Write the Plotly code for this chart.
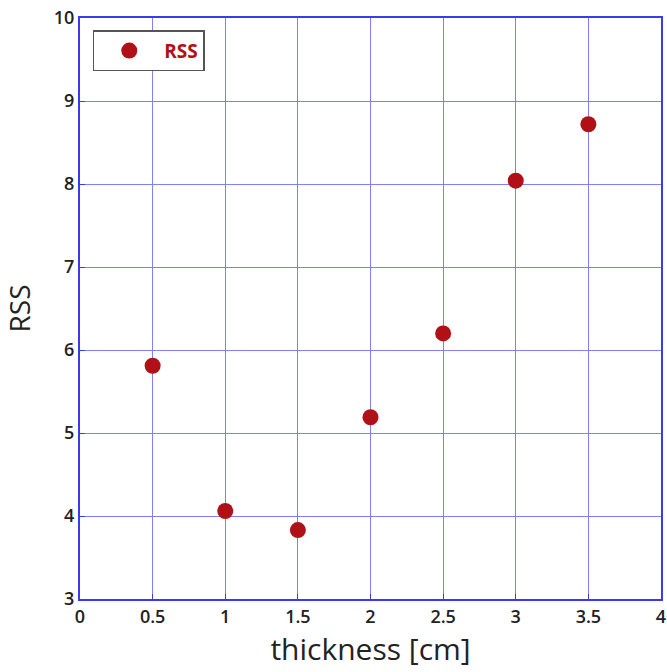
import plotly.graph_objects as go

thickness = [0.5, 1.0, 1.5, 2.0, 2.5, 3.0, 3.5]
rss = [5.81, 4.06, 3.83, 5.19, 6.20, 8.04, 8.72]

x_ticks = [0, 0.5, 1, 1.5, 2, 2.5, 3, 3.5, 4]
x_tick_text = ["0", "0.5", "1", "1.5", "2", "2.5", "3", "3.5", "4"]
y_ticks = [3, 4, 5, 6, 7, 8, 9, 10]

fig = go.Figure()
fig.add_trace(go.Scatter(
    x=thickness, y=rss, mode="markers", name="<b>RSS</b>",
    marker=dict(color="#b01116", size=16, line=dict(width=0)),
))

fig.update_layout(
    width=667, height=672,
    margin=dict(l=80, r=6, t=18, b=73),
    plot_bgcolor="white", paper_bgcolor="white",
    font=dict(family="Open Sans, sans-serif", color="#222"),
    showlegend=True,
    legend=dict(
        x=0.022, y=0.979, xanchor="left", yanchor="top",
        bgcolor="white", bordercolor="#555", borderwidth=1.5,
        font=dict(size=19, color="#b01116", family="Open Sans, sans-serif"),
        itemwidth=60, entrywidth=98,
    ),
    xaxis=dict(
        range=[0, 4], tickvals=x_ticks, ticktext=x_tick_text,
        showgrid=True, gridcolor="#8080ff", gridwidth=1,
        showline=True, linecolor="#3a3af0", linewidth=2, mirror=True,
        ticks="inside", ticklen=5, tickcolor="#3a3af0",
        tickfont=dict(size=18, weight=600), zeroline=False, automargin=False,
        ticklabeloverflow="allow",
        title=dict(text="thickness [cm]", font=dict(size=30, weight=500), standoff=0),
    ),
    yaxis=dict(
        range=[3, 10], tickvals=y_ticks,
        showgrid=True, gridcolor="#8080ff", gridwidth=1,
        showline=True, linecolor="#3a3af0", linewidth=2, mirror=True,
        ticks="inside", ticklen=5, tickcolor="#3a3af0",
        tickfont=dict(size=18, weight=600), zeroline=False, automargin=False,
        ticklabeloverflow="allow",
        title=dict(text="RSS", font=dict(size=28, weight=500), standoff=30),
    ),
)

# remove the default page margin so the figure fills the window exactly
fig.write_html("out.html", config={"displayModeBar": False},
               post_script="document.body.style.margin='0';")
